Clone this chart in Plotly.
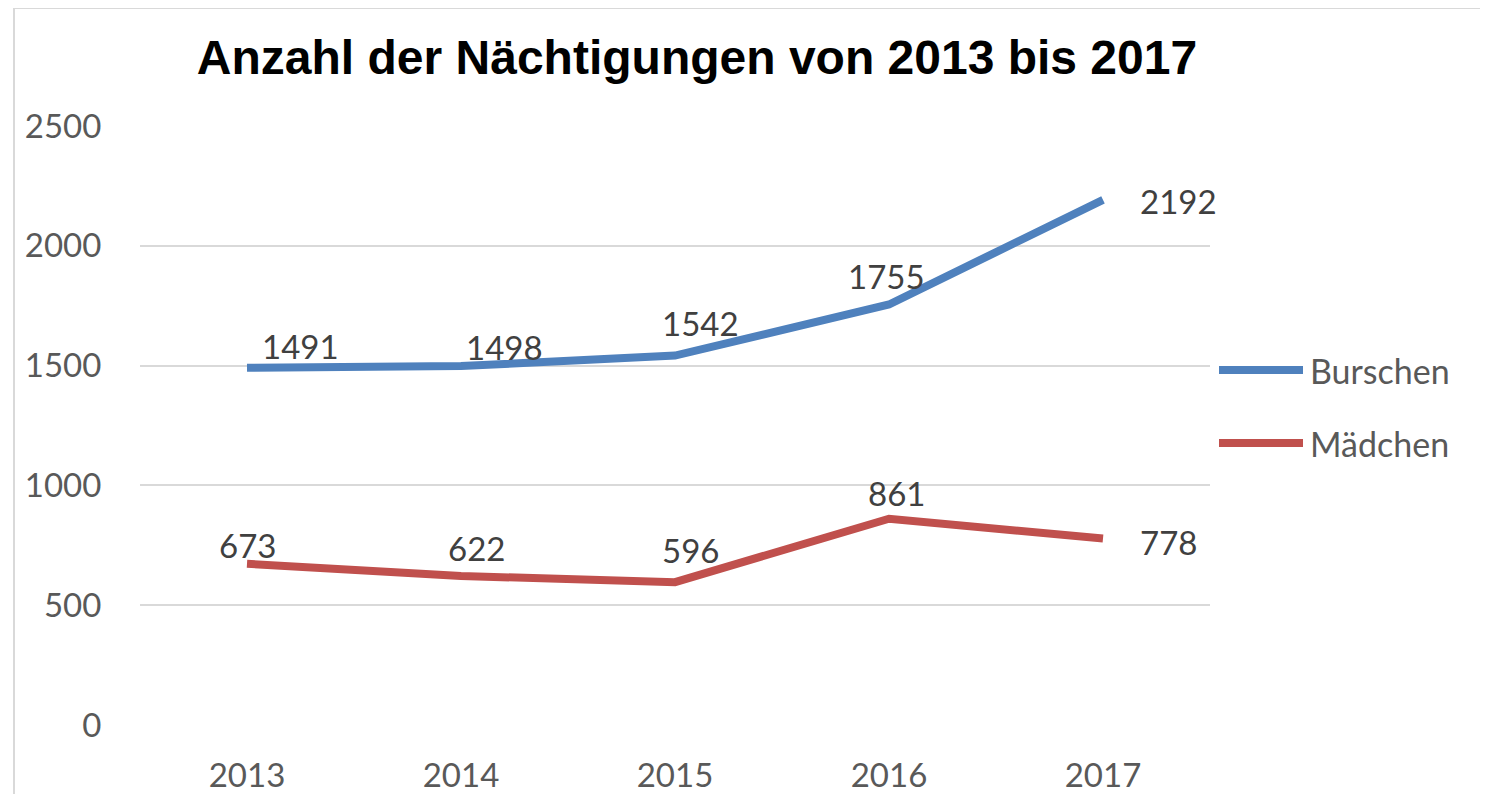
import plotly.graph_objects as go

years = ["2013", "2014", "2015", "2016", "2017"]
series_names = ["Burschen", "Mädchen"]
burschen = [1491, 1498, 1542, 1755, 2192]
maedchen = [673, 622, 596, 861, 778]
colors = ["#4F81BD", "#C0504D"]
y_ticks = [0, 500, 1000, 1500, 2000, 2500]

# label offsets (pixels) relative to each point
b_shift = [(53, 22), (43, 19), (25, 33), (-3, 29), (75, -1)]
m_shift = [(0, 19), (15, 28), (15, 32), (7, 26), (65, -3)]

OFF = 8  # page body margin offset
W, H = 1488 - 2 * OFF, 802 - 2 * OFF
L, T = 140 - OFF, 126 - OFF
R = W - (1210 - OFF)
B = H - (725 - OFF)
pw, ph = W - L - R, H - T - B

def px_x(p):
    return (p - OFF - L) / pw

def px_y(p):
    return (H - B - (p - OFF)) / ph

xi = list(range(len(years)))

fig = go.Figure()
for name, vals, col in zip(series_names, [burschen, maedchen], colors):
    fig.add_trace(go.Scatter(x=xi, y=vals, mode="lines", name=name,
                             line=dict(color=col, width=8), showlegend=False))

label_font = dict(family="Lato, Carlito, sans-serif", size=33, color="#404040")
annotations = []
for vals, shifts in [(burschen, b_shift), (maedchen, m_shift)]:
    for x, v, (dx, dy) in zip(xi, vals, shifts):
        annotations.append(dict(x=x, y=v, xref="x", yref="y", text=str(v),
                                showarrow=False, xshift=dx, yshift=dy,
                                font=label_font))

# manual legend
legend_y = [370, 443]
shapes = []
for name, col, ly in zip(series_names, colors, legend_y):
    shapes.append(dict(type="line", xref="paper", yref="paper",
                       x0=px_x(1219), x1=px_x(1303), y0=px_y(ly), y1=px_y(ly),
                       line=dict(color=col, width=8)))
    annotations.append(dict(x=px_x(1308), y=px_y(ly), xref="paper", yref="paper",
                            text=name, showarrow=False, xanchor="left",
                            yanchor="middle", font=dict(family="Lato, sans-serif",
                                                        size=34, color="#595959")))

# outer frame (top and left edges)
frame = dict(color="#D9D9D9", width=2)
shapes.append(dict(type="line", xref="paper", yref="paper", layer="below",
                   x0=px_x(14), x1=px_x(1600), y0=px_y(8), y1=px_y(8), line=frame))
shapes.append(dict(type="line", xref="paper", yref="paper", layer="below",
                   x0=px_x(14), x1=px_x(14), y0=px_y(8), y1=px_y(900), line=frame))

fig.update_layout(
    width=W, height=H,
    margin=dict(l=L, r=R, t=T, b=B, autoexpand=False),
    paper_bgcolor="white", plot_bgcolor="white",
    title=dict(text="<b>Anzahl der Nächtigungen von 2013 bis 2017</b>",
               x=(697 - OFF) / W, xanchor="center", y=1 - (57 - OFF) / H,
               yanchor="middle",
               font=dict(family="Liberation Sans, Arial, sans-serif", size=48,
                         color="#000000")),
    annotations=annotations,
    shapes=shapes,
    showlegend=False,
)
fig.update_xaxes(range=[-0.5, len(years) - 0.5], tickvals=xi, ticktext=years,
                 showgrid=False, showline=False, zeroline=False, automargin=False,
                 ticks="outside", ticklen=0, ticklabelstandoff=21,
                 tickfont=dict(family="Lato, sans-serif", size=33, color="#595959"))
fig.update_yaxes(range=[0, 2500], tickvals=y_ticks, showgrid=True,
                 gridcolor="#D9D9D9", gridwidth=2, zeroline=False, showline=False,
                 automargin=False,
                 ticks="outside", ticklen=0, ticklabelstandoff=31,
                 tickfont=dict(family="Lato, sans-serif", size=33, color="#595959"))

fig.write_html("out.html")
